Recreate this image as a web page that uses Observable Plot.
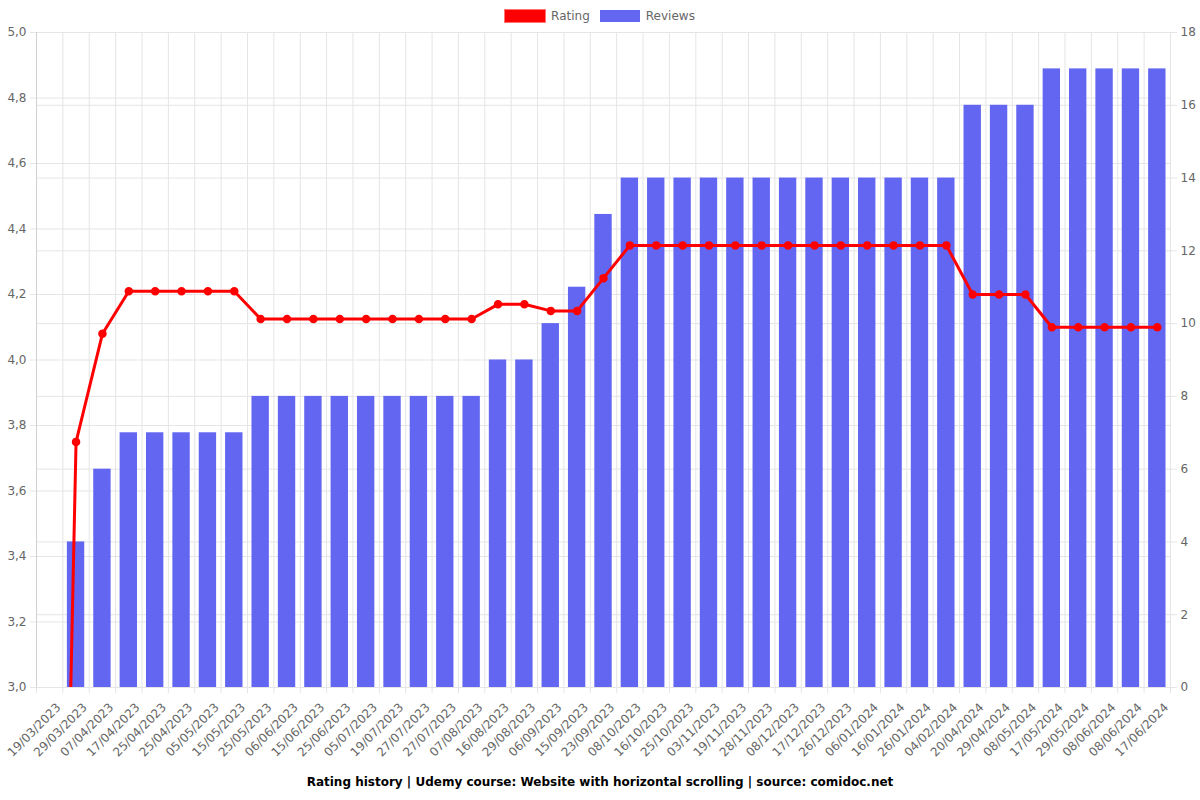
<!DOCTYPE html>
<html>
<head>
<meta charset="utf-8">
<script src="https://cdn.jsdelivr.net/npm/d3@7"></script>
<script src="https://cdn.jsdelivr.net/npm/@observablehq/plot@0.6"></script>
<style>
  html, body { margin: 0; padding: 0; background: #fff; }
  body { width: 1200px; height: 800px; font-family: "DejaVu Sans", sans-serif; }
  #legend { height: 24px; display: flex; justify-content: center; align-items: center; gap: 0; font-size: 12px; color: #666; padding-top: 8px; box-sizing: border-box; }
  .item { display: flex; align-items: center; margin: 0 5px; }
  .sw { width: 40px; height: 12px; margin-right: 6px; }
  #title { height: 36px; line-height: 36px; text-align: center; font-weight: bold; font-size: 12px; color: #000; }
</style>
</head>
<body>
<div id="legend"></div>
<div id="chart"></div>
<div id="title"></div>
<script>
const labels = ["19/03/2023","29/03/2023","07/04/2023","17/04/2023","25/04/2023","25/04/2023","05/05/2023","15/05/2023","25/05/2023","06/06/2023","15/06/2023","25/06/2023","05/07/2023","19/07/2023","27/07/2023","27/07/2023","07/08/2023","16/08/2023","29/08/2023","06/09/2023","15/09/2023","23/09/2023","08/10/2023","16/10/2023","25/10/2023","03/11/2023","19/11/2023","28/11/2023","08/12/2023","17/12/2023","26/12/2023","06/01/2024","16/01/2024","26/01/2024","04/02/2024","20/04/2024","29/04/2024","08/05/2024","17/05/2024","29/05/2024","08/06/2024","08/06/2024","17/06/2024"];
const reviews = [0,4,6,7,7,7,7,7,8,8,8,8,8,8,8,8,8,9,9,10,11,13,14,14,14,14,14,14,14,14,14,14,14,14,14,16,16,16,17,17,17,17,17];
const ratings = [0,3.75,4.08,4.21,4.21,4.21,4.21,4.21,4.125,4.125,4.125,4.125,4.125,4.125,4.125,4.125,4.125,4.17,4.17,4.15,4.15,4.25,4.35,4.35,4.35,4.35,4.35,4.35,4.35,4.35,4.35,4.35,4.35,4.35,4.35,4.2,4.2,4.2,4.1,4.1,4.1,4.1,4.1];
const ratingTicks = [3.0,3.2,3.4,3.6,3.8,4.0,4.2,4.4,4.6,4.8,5.0];
const reviewTicks = [0,2,4,6,8,10,12,14,16,18];
const seriesNames = ["Rating","Reviews"];
const seriesColors = ["#ff0000","#6366f1"];
const titleText = "Rating history | Udemy course: Website with horizontal scrolling | source: comidoc.net";

const rMin = 3, rMax = 5, revMax = 18;
const revToY = v => rMin + v * (rMax - rMin) / revMax;
const yToRev = y => Math.round((y - rMin) * revMax / (rMax - rMin));

const data = labels.map((l, i) => ({i, label: l, reviews: reviews[i], rating: ratings[i]}));
const idx = data.map(d => d.i);

const W = 1200, H = 740, mL = 36, mR = 30, mT = 8, mB = 77;
const bw = (W - mL - mR) / labels.length;
const grid = "#e5e5e5";
const tickColor = "#666";

const plot = Plot.plot({
  width: W, height: H,
  marginLeft: mL, marginRight: mR, marginTop: mT, marginBottom: mB,
  style: {fontFamily: "DejaVu Sans, sans-serif", fontSize: "12px", color: tickColor, background: "#fff"},
  x: {type: "band", domain: idx, padding: 0, round: false, axis: null, label: null},
  y: {domain: [rMin, rMax], axis: null, label: null},
  marks: [
    Plot.gridY(ratingTicks, {stroke: grid, strokeOpacity: 1}),
    Plot.gridY(reviewTicks.map(revToY), {stroke: grid, strokeOpacity: 1}),
    Plot.ruleX(idx, {x: d => d, dx: -bw / 2, stroke: grid, insetBottom: -6}),
    Plot.ruleX([idx[idx.length - 1]], {x: d => d, dx: bw / 2, stroke: grid, insetBottom: -6}),
    Plot.barY(data, {x: "i", y1: () => rMin, y2: d => revToY(d.reviews), fill: seriesColors[1], insetLeft: 4.5, insetRight: 4.5}),
    Plot.axisY(ratingTicks, {anchor: "left", label: null, tickFormat: d => d.toFixed(1).replace(".", ","), tickSize: 6, tickPadding: 4, stroke: grid, fill: tickColor, fontSize: 12}),
    Plot.axisY(reviewTicks.map(revToY), {anchor: "right", label: null, tickFormat: yToRev, tickSize: 6, tickPadding: 4, stroke: grid, fill: tickColor, fontSize: 12}),
    Plot.axisX(idx, {label: null, tickFormat: i => labels[i], tickRotate: -45, tickSize: 0, tickPadding: 18, dx: 9, fill: tickColor, fontSize: 12}),
    Plot.ruleX([0], {x: () => idx[0], dx: -bw / 2, stroke: "#d0d0d0"}),
    Plot.line(data, {x: "i", y: "rating", stroke: seriesColors[0], strokeWidth: 3, clip: true}),
    Plot.dot(data, {x: "i", y: "rating", r: 3.5, fill: seriesColors[0], stroke: seriesColors[0], clip: true})
  ]
});
document.getElementById("chart").appendChild(plot);

const legend = document.getElementById("legend");
seriesNames.forEach((n, k) => {
  const it = document.createElement("div");
  it.className = "item";
  const sw = document.createElement("span");
  sw.className = "sw";
  sw.style.background = seriesColors[k];
  if (k === 0) { sw.style.outline = "1.5px solid rgba(255,80,80,0.8)"; }
  const t = document.createElement("span");
  t.textContent = n;
  it.appendChild(sw); it.appendChild(t);
  legend.appendChild(it);
});
document.getElementById("title").textContent = titleText;
</script>
</body>
</html>
